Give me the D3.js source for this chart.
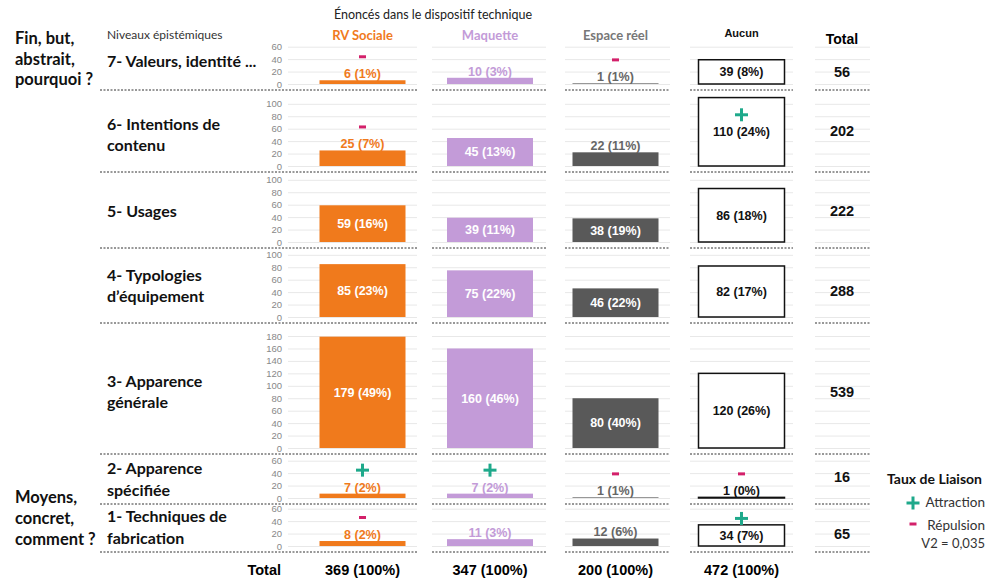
<!DOCTYPE html>
<head>
<meta charset="utf-8">
<script src="https://d3js.org/d3.v7.min.js"></script>
<title>Niveaux épistémiques</title>
<style>
  body { margin: 0; background: #fff; }
</style>
</head>
<body>
<div id="graph_container"></div>
<script>
// ---- data ----
let levelLabels = [
    ['7- Valeurs, identité ...'],
    ['6- Intentions de', 'contenu'],
    ['5- Usages'],
    ['4- Typologies', 'd\u2019équipement'],
    ['3- Apparence', 'générale'],
    ['2- Apparence', 'spécifiée'],
    ['1- Techniques de', 'fabrication']
]
let axisMax = [60, 100, 100, 100, 180, 60, 60]
let columns = ['RV Sociale', 'Maquette', 'Espace réel', 'Aucun']

let rvSociale   = [6, 25, 59, 85, 179, 7, 8]
let rvPct       = [1, 7, 16, 23, 49, 2, 2]
let maquette    = [10, 45, 39, 75, 160, 7, 11]
let maqPct      = [3, 13, 11, 22, 46, 2, 3]
let espaceReel  = [1, 22, 38, 46, 80, 1, 12]
let espPct      = [1, 11, 19, 22, 40, 1, 6]
let aucun       = [39, 110, 86, 82, 120, 1, 34]
let aucPct      = [8, 24, 18, 17, 26, 0, 7]

// taux de liaison: '+' attraction, '-' répulsion
let rvLiaison  = ['-', '-', '', '', '', '+', '-']
let maqLiaison = ['', '', '', '', '', '+', '']
let espLiaison = ['-', '', '', '', '', '-', '']
let aucLiaison = ['', '+', '', '', '', '-', '+']

let rowTotals = [56, 202, 222, 288, 539, 16, 65]
let colTotals = [369, 347, 200, 472]

// ---- layout ----
let W = 987, H = 584
let rowBase = [84, 166, 242, 317, 448, 498, 546]   // y of the 0 line in each row
let totalDy = [7, -4, 0, 5, 0, -2, 7]              // small nudges of the row totals
let pxPerUnit = 0.622
let barW = 86
let colCenters = [362.5, 490, 615.5, 741.5, 842]
let colSpans = [[288, 417], [432, 546], [565, 670], [690, 793], [815, 870]]

let settings = {
    'RV Sociale':  { color: '#f07a1c', text: '#f07a1c', vals: rvSociale,  pct: rvPct,  liaison: rvLiaison },
    'Maquette':    { color: '#c39bd8', text: '#c39bd8', vals: maquette,   pct: maqPct, liaison: maqLiaison },
    'Espace réel': { color: '#595959', text: '#666666', vals: espaceReel, pct: espPct, liaison: espLiaison },
    'Aucun':       { color: '#ffffff', text: '#111111', vals: aucun,      pct: aucPct, liaison: aucLiaison }
}

let plusColor = '#1ea98b', minusColor = '#d3206a'
let numFont = '"Liberation Sans", Arial, sans-serif'
let txtFont = 'Lato, "Open Sans", sans-serif'

let x = d3.scaleOrdinal().domain(columns.concat(['Total'])).range(colCenters)

document.getElementById('graph_container').innerHTML = '<svg width=' + W + ' height=' + H + '></svg>'
let svg = d3.select('svg')

function drawMarker(g, type, cx, cy) {
    if (type == '+') {
        g.append('line').attr('x1', cx - 6.5).attr('x2', cx + 6.5).attr('y1', cy).attr('y2', cy)
            .style('stroke', plusColor).style('stroke-width', 3)
        g.append('line').attr('x1', cx).attr('x2', cx).attr('y1', cy - 6.5).attr('y2', cy + 6.5)
            .style('stroke', plusColor).style('stroke-width', 3)
    } else if (type == '-') {
        g.append('line').attr('x1', cx - 3.5).attr('x2', cx + 3.5).attr('y1', cy).attr('y2', cy)
            .style('stroke', minusColor).style('stroke-width', 3)
    }
}

// headers
svg.append('text')
    .attr('x', 433).attr('y', 19)
    .style('text-anchor', 'middle').style('font-family', txtFont).style('font-size', '12.5px').style('fill', '#222')
    .text('Énoncés dans le dispositif technique')

svg.append('text')
    .attr('x', 107).attr('y', 39)
    .style('font-family', txtFont).style('font-size', '12px').style('fill', '#333')
    .text('Niveaux épistémiques')

columns.forEach(function(c) {
    let isAucun = c == 'Aucun'
    svg.append('text')
        .attr('x', x(c)).attr('y', isAucun ? 37 : 39.5)
        .style('text-anchor', 'middle')
        .style('font-family', isAucun ? numFont : txtFont)
        .style('font-weight', 'bold')
        .style('font-size', isAucun ? '11px' : '13px')
        .style('fill', c == 'Espace réel' ? '#777' : settings[c].text)
        .text(c)
})
svg.append('text')
    .attr('x', x('Total')).attr('y', 44)
    .style('text-anchor', 'middle').style('font-family', numFont).style('font-weight', 'bold').style('font-size', '14px')
    .text('Total')

// side notes
let topNote = ['Fin, but,', 'abstrait,', 'pourquoi ?']
let bottomNote = ['Moyens,', 'concret,', 'comment ?']
topNote.forEach(function(t, i) {
    svg.append('text').attr('x', 15).attr('y', 44 + i * 20.5)
        .style('font-family', txtFont).style('font-weight', 'bold').style('font-size', '16.5px').style('fill', '#111')
        .text(t)
})
bottomNote.forEach(function(t, i) {
    svg.append('text').attr('x', 15).attr('y', 503 + i * 21)
        .style('font-family', txtFont).style('font-weight', 'bold').style('font-size', '16.5px').style('fill', '#111')
        .text(t)
})

// rows
levelLabels.forEach(function(lines, r) {
    let max = axisMax[r]
    let y = d3.scaleLinear().domain([0, max]).range([rowBase[r], rowBase[r] - max * pxPerUnit])
    let ticks = d3.range(0, max + 1, 20)
    let g = svg.append('g')
    let mid = (y(0) + y(max)) / 2

    // gridlines in every column
    colSpans.forEach(function(span) {
        g.selectAll(null).data(ticks).enter().append('line')
            .attr('x1', span[0]).attr('x2', span[1])
            .attr('y1', function(d) { return y(d) + 0.5 })
            .attr('y2', function(d) { return y(d) + 0.5 })
            .style('stroke', '#e8e8e8').style('stroke-width', 1)
    })

    // y axis
    let axis = g.append('g')
        .attr('transform', 'translate(282,0)')
        .call(d3.axisLeft(y).tickValues(ticks).tickSize(0).tickPadding(0))
    axis.select('.domain').remove()
    axis.selectAll('text').style('font-family', numFont).style('font-size', '9.5px').style('fill', '#888')

    // dotted separators
    colSpans.forEach(function(span, i) {
        g.append('line')
            .attr('x1', i == 0 ? 100 : span[0]).attr('x2', span[1])
            .attr('y1', y(0) + 6).attr('y2', y(0) + 6)
            .style('stroke', '#333').style('stroke-width', 1).style('stroke-dasharray', '2,1.5')
    })

    // row label
    lines.forEach(function(t, i) {
        g.append('text')
            .attr('x', 107)
            .attr('y', mid - (lines.length - 1) * 10.75 + i * 21.5 - (r == 0 ? 4 : 0))
            .attr('dy', '0.35em')
            .style('font-family', txtFont).style('font-weight', 'bold').style('font-size', '16px').style('fill', '#111')
            .text(t)
    })

    // bars
    columns.forEach(function(c) {
        let s = settings[c]
        let v = s.vals[r]
        let isAucun = c == 'Aucun'
        g.append('rect')
            .attr('x', x(c) - barW / 2)
            .attr('y', y(v))
            .attr('width', barW)
            .attr('height', y(0) - y(v))
            .style('fill', s.color)
            .style('stroke', isAucun ? '#111' : 'none')
            .style('stroke-width', isAucun ? 1.5 : 0)

        let inside = v >= 30
        let ly = inside ? (y(v) + y(0)) / 2 : y(v) - 6.5
        g.append('text')
            .attr('x', x(c)).attr('y', ly).attr('dy', '0.35em')
            .style('text-anchor', 'middle').style('font-family', numFont).style('font-weight', 'bold')
            .style('font-size', '12.5px')
            .style('fill', inside && !isAucun ? '#fff' : s.text)
            .text(v + ' (' + s.pct[r] + '%)')

        drawMarker(g, s.liaison[r], x(c), ly - 17)
    })

    // row total
    g.append('text')
        .attr('x', x('Total')).attr('y', mid + totalDy[r]).attr('dy', '0.35em')
        .style('text-anchor', 'middle').style('font-family', numFont).style('font-weight', 'bold').style('font-size', '14.5px')
        .style('fill', '#111')
        .text(rowTotals[r])
})

// bottom totals
svg.append('text')
    .attr('x', 281).attr('y', 575)
    .style('text-anchor', 'end').style('font-family', numFont).style('font-weight', 'bold').style('font-size', '14.5px')
    .text('Total')
columns.forEach(function(c, i) {
    svg.append('text')
        .attr('x', x(c)).attr('y', 575)
        .style('text-anchor', 'middle').style('font-family', numFont).style('font-weight', 'bold').style('font-size', '14.5px')
        .text(colTotals[i] + ' (100%)')
})

// legend
let legend = svg.append('g')
legend.append('text').attr('x', 887).attr('y', 484)
    .style('font-family', txtFont).style('font-weight', 'bold').style('font-size', '14px').style('fill', '#111')
    .text('Taux de Liaison')
drawMarker(legend, '+', 913, 503)
legend.append('text').attr('x', 985).attr('y', 506.5).style('text-anchor', 'end')
    .style('font-family', txtFont).style('font-size', '13.5px').style('fill', '#333').text('Attraction')
drawMarker(legend, '-', 913, 524)
legend.append('text').attr('x', 985).attr('y', 530).style('text-anchor', 'end')
    .style('font-family', txtFont).style('font-size', '13.5px').style('fill', '#333').text('Répulsion')
legend.append('text').attr('x', 985).attr('y', 548).style('text-anchor', 'end')
    .style('font-family', txtFont).style('font-size', '13px').style('fill', '#333').text('V2 = 0,035')
</script>
</body>
